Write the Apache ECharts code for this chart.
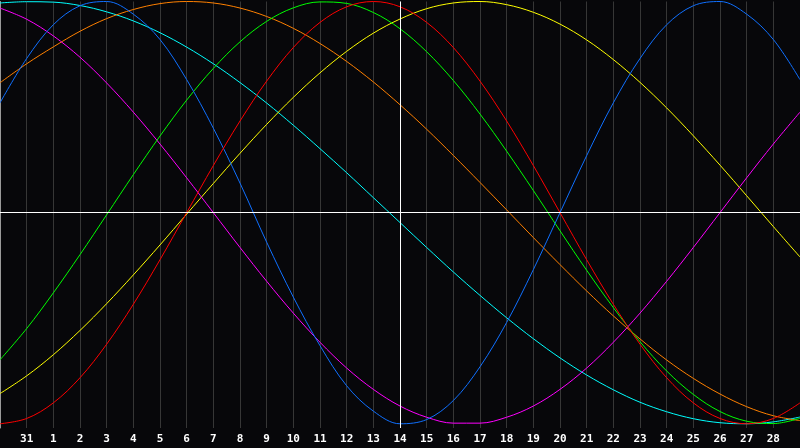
<!DOCTYPE html>
<html>
<head>
<meta charset="utf-8">
<script src="https://cdn.jsdelivr.net/npm/echarts@6/dist/echarts.min.js"></script>
<style>
html,body{margin:0;padding:0;background:#07070a;}
#chart{width:800px;height:448px;}
</style>
</head>
<body>
<div id="chart"></div>
<script>
// Day labels for each vertical grid position (first and last are at the chart edges, hidden)
const days = ['30','31','1','2','3','4','5','6','7','8','9','10','11','12','13','14','15','16','17','18','19','20','21','22','23','24','25','26','27','28','29'];
const todayLabel = '14';

// Cycle values (-1 .. 1) read at each day position
const physical = [0.52,0.73,0.89,0.98,1.00,0.94,0.82,0.63,0.40,0.14,-0.14,-0.40,-0.63,-0.82,-0.94,-1.00,-0.98,-0.89,-0.73,-0.52,-0.27,0.00,0.27,0.52,0.73,0.89,0.98,1.00,0.94,0.82,0.63];
const emotional = [-1.00,-0.975,-0.901,-0.782,-0.623,-0.434,-0.223,0.00,0.223,0.434,0.623,0.782,0.901,0.975,1.00,0.975,0.901,0.782,0.623,0.434,0.223,0.00,-0.223,-0.434,-0.623,-0.782,-0.901,-0.975,-1.00,-0.975,-0.901];
const intellectual = [-0.697,-0.549,-0.380,-0.199,-0.010,0.180,0.363,0.533,0.683,0.809,0.906,0.970,0.998,0.991,0.948,0.871,0.762,0.626,0.467,0.291,0.105,-0.086,-0.273,-0.450,-0.611,-0.750,-0.861,-0.942,-0.988,-0.999,-0.974];
const intuitive = [0.969,0.916,0.837,0.736,0.614,0.476,0.325,0.165,0.00,-0.165,-0.325,-0.476,-0.614,-0.736,-0.837,-0.916,-0.969,-0.997,-0.997,-0.969,-0.916,-0.837,-0.736,-0.614,-0.476,-0.325,-0.165,0.00,0.165,0.325,0.476];
const aesthetic = [-0.857,-0.773,-0.673,-0.558,-0.431,-0.295,-0.153,-0.007,0.138,0.281,0.418,0.546,0.662,0.764,0.850,0.917,0.966,0.993,1.000,0.985,0.949,0.893,0.818,0.725,0.617,0.496,0.364,0.225,0.080,-0.066,-0.210];
const awareness = [0.615,0.705,0.785,0.859,0.919,0.962,0.990,1.000,0.993,0.969,0.929,0.873,0.801,0.716,0.619,0.511,0.395,0.271,0.143,0.013,-0.118,-0.246,-0.371,-0.489,-0.598,-0.698,-0.785,-0.859,-0.919,-0.962,-0.985];
const spiritual = [0.993,0.999,0.997,0.981,0.951,0.908,0.852,0.784,0.705,0.616,0.519,0.414,0.303,0.189,0.071,-0.047,-0.165,-0.281,-0.392,-0.498,-0.597,-0.688,-0.769,-0.839,-0.898,-0.943,-0.976,-0.995,-1.000,-0.991,-0.968];

const seriesList = [
  {name:'Spiritual', data: spiritual, color:'#00ffff'},
  {name:'Awareness', data: awareness, color:'#ff8000'},
  {name:'Aesthetic', data: aesthetic, color:'#ffff00'},
  {name:'Intuitive', data: intuitive, color:'#ff00ff'},
  {name:'Intellectual', data: intellectual, color:'#00ff00'},
  {name:'Physical', data: physical, color:'#1070ff'},
  {name:'Emotional', data: emotional, color:'#ff0000'}
];

const chart = echarts.init(document.getElementById('chart'), null, {renderer:'canvas'});
const series = seriesList.map((s) => ({
  name: s.name,
  type: 'line',
  data: s.data,
  smooth: 0.35,
  symbol: 'none',
  lineStyle: {color: s.color, width: 1},
  itemStyle: {color: s.color},
  z: 3,
  animation: false
}));
series.push({
  type: 'line',
  data: [],
  markLine: {
    silent: true,
    symbol: 'none',
    label: {show: false},
    lineStyle: {color: '#ffffff', width: 1, type: 'solid'},
    data: [{xAxis: todayLabel}, {yAxis: 0}]
  },
  z: 2,
  animation: false
});

chart.setOption({
  backgroundColor: '#07070a',
  animation: false,
  grid: {left: 0, right: 0, top: 1.5, bottom: 20, containLabel: false},
  xAxis: {
    type: 'category',
    data: days,
    boundaryGap: false,
    axisLine: {show: true, lineStyle: {color: '#9a9a9a', width: 1}},
    axisTick: {show: false},
    splitLine: {show: true, interval: 0, lineStyle: {color: '#363636', width: 1}},
    axisLabel: {
      color: '#ffffff',
      fontFamily: '"DejaVu Sans Mono", monospace',
      fontWeight: 'bold',
      fontSize: 11,
      margin: 6,
      interval: function (index) { return index > 0 && index < days.length - 1; }
    }
  },
  yAxis: {
    type: 'value',
    min: -1.02,
    max: 1.0,
    axisLine: {show: true, lineStyle: {color: '#9a9a9a', width: 1}},
    axisTick: {show: false},
    axisLabel: {show: false},
    splitLine: {show: false}
  },
  series: series
});
</script>
</body>
</html>
